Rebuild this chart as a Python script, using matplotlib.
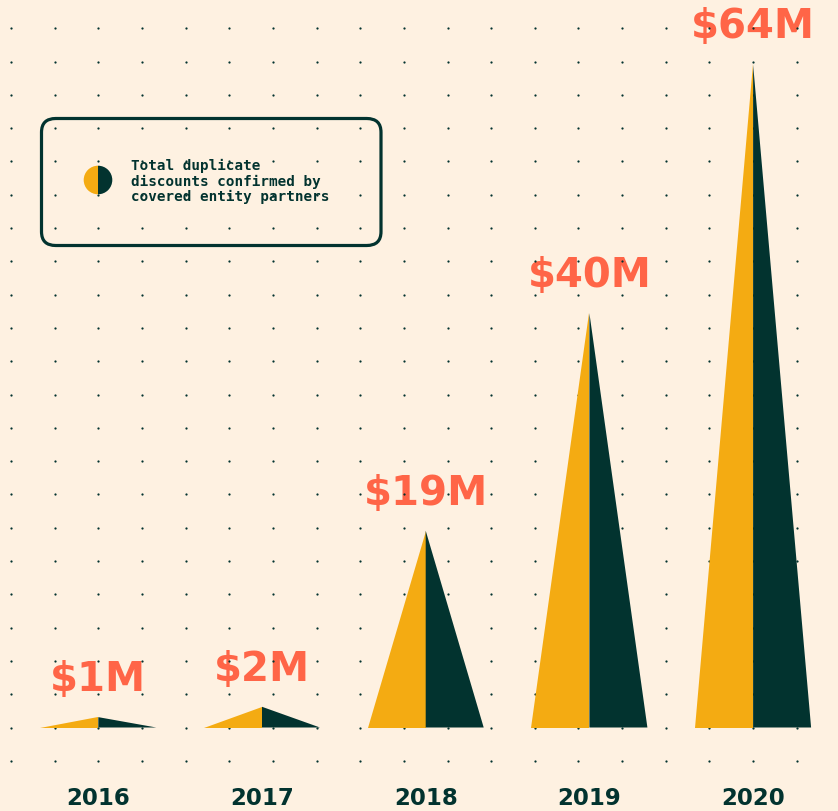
import matplotlib.pyplot as plt
from matplotlib.patches import FancyBboxPatch, Wedge
import numpy as np

years = ['2016', '2017', '2018', '2019', '2020']
values = [1, 2, 19, 40, 64]  # $M, duplicate discounts
labels = ['$1M', '$2M', '$19M', '$40M', '$64M']
legend_text = 'Total duplicate\ndiscounts confirmed by\ncovered entity partners'

BG = '#FEF1E1'
YELLOW = '#F4AB12'
DARK = '#02332F'
CORAL = '#FF6547'

W, H = 838, 812
fig = plt.figure(figsize=(W / 100, H / 100), dpi=100, facecolor=BG)
ax = fig.add_axes([0, 0, 1, 1])
ax.set_facecolor(BG)

# pixel layout -> data scale
x0_px, step_px = 98.3, 163.7
base_px, px_per_m = 728.5, 10.36
ax.set_xlim(-x0_px / step_px, (W - x0_px) / step_px)
ax.set_ylim(-(H - base_px) / px_per_m, base_px / px_per_m)
ax.axis('off')

# dotted background grid
gx = np.arange(-2, 17) * (43.65 / step_px)
gy = np.arange(-1, 22) * (33.3 / px_per_m)
GX, GY = np.meshgrid(gx, gy)
ax.scatter(GX.ravel(), GY.ravel(), s=2.6, color=DARK, lw=0, zorder=2)

hw = 58 / step_px
for i, v in enumerate(values):
    ax.fill([i - hw, i, i], [0, 0, v], color=YELLOW, lw=0, zorder=3)
    ax.fill([i, i + hw, i], [0, 0, v], color=DARK, lw=0, zorder=3)
    ax.annotate(labels[i], (i, v), xytext=(0, 19.5), textcoords='offset points',
                ha='center', va='baseline', fontsize=29, fontweight='bold',
                color=CORAL, family='DejaVu Sans', zorder=1)
    ax.text(i, -(799 - base_px) / px_per_m, years[i], ha='center', va='center',
            fontsize=16.5, fontweight='bold', color=DARK, family='DejaVu Sans')

# legend box
def fx(px): return px / W
def fy(py): return 1 - py / H

box = FancyBboxPatch((fx(41.5), fy(246.5)), fx(381) - fx(41.5), fy(119.5) - fy(246.5),
                     boxstyle='round,pad=0,rounding_size=0.017', transform=ax.transAxes,
                     facecolor='none', edgecolor=DARK, lw=2.3, zorder=4)
ax.add_patch(box)

# half-and-half marker, drawn in pixel space so it stays round
ax_circ = fig.add_axes([fx(83), fy(196), 30 / W, 30 / H])
ax_circ.set_xlim(-15, 15)
ax_circ.set_ylim(-15, 15)
ax_circ.axis('off')
ax_circ.add_patch(Wedge((0, 0), 14.3, 90, 270, color=YELLOW, lw=0))
ax_circ.add_patch(Wedge((0, 0), 14.3, -90, 90, color=DARK, lw=0))

ax.text(fx(131), fy(159), legend_text, transform=ax.transAxes, ha='left', va='top',
        fontsize=10.3, fontweight='bold', family='DejaVu Sans Mono', color=DARK,
        linespacing=1.13, zorder=5)

fig.savefig('out.png', dpi=100, facecolor=BG)
